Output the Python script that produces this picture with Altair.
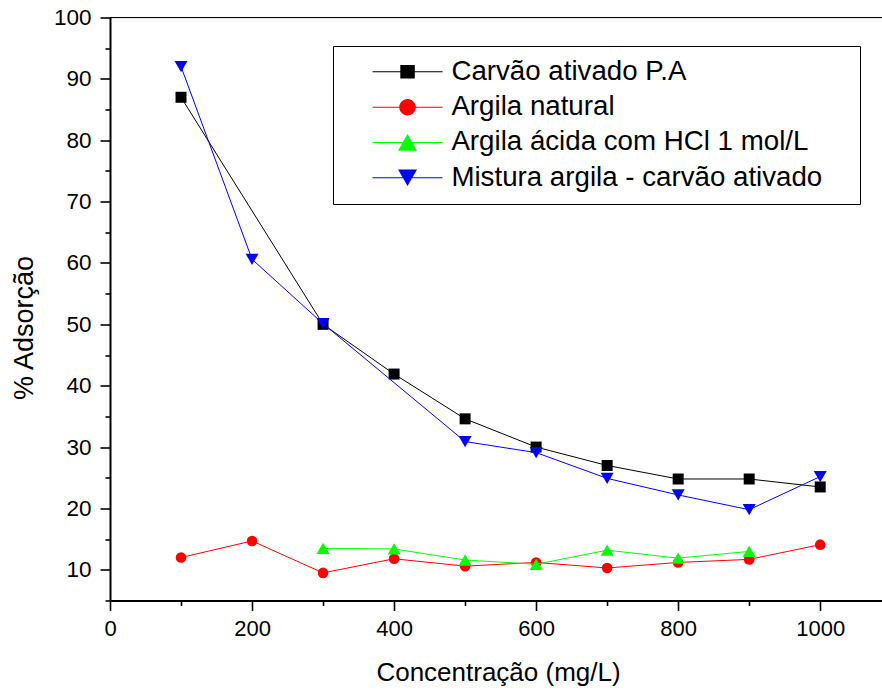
import altair as alt
import pandas as pd

# ---- data ----
series_names = [
    "Carvão ativado P.A",
    "Argila natural",
    "Argila ácida com HCl 1 mol/L",
    "Mistura argila - carvão ativado",
]
series_colors = ["#000000", "#FF0000", "#00FF00", "#0000FF"]
point_shapes = ["square", "circle", "triangle-up", "triangle-down"]
point_sizes = [121, 113, 169, 169]

carvao_x = [100, 300, 400, 500, 600, 700, 800, 900, 1000]
carvao_y = [87.0, 50.0, 41.9, 34.6, 30.0, 27.0, 24.8, 24.8, 23.5]

argila_x = [100, 200, 300, 400, 500, 600, 700, 800, 900, 1000]
argila_y = [12.0, 14.7, 9.5, 11.8, 10.6, 11.2, 10.3, 11.2, 11.7, 14.1]

acida_x = [300, 400, 500, 600, 700, 800, 900]
acida_y = [13.5, 13.4, 11.6, 10.9, 13.2, 11.9, 13.0]

mistura_x = [100, 200, 300, 500, 600, 700, 800, 900, 1000]
mistura_y = [92.0, 60.6, 50.1, 30.9, 29.1, 24.9, 22.2, 19.8, 25.2]

x_ticks = [0, 100, 200, 300, 400, 500, 600, 700, 800, 900, 1000]
y_ticks = [5, 10, 15, 20, 25, 30, 35, 40, 45, 50, 55, 60, 65, 70, 75, 80, 85, 90, 95, 100]

# legend symbols: line segment + marker (custom paths, unit = sqrt(size)/2 px);
# the trailing empty sub-path only widens the legend frame
legend_paths = [
    "M-7,-0.1H7V0.1H-7Z M-1.45,-1.35H1.45V1.35H-1.45Z M88,0Z",
    "M-7,-0.1H7V0.1H-7Z M-1.65,0A1.65,1.65,0,1,1,1.65,0A1.65,1.65,0,1,1,-1.65,0Z M88,0Z",
    "M-7,-0.1H7V0.1H-7Z M0,-1.67L1.9,1.67L-1.9,1.67Z M88,0Z",
    "M-7,-0.1H7V0.1H-7Z M0,1.67L-1.9,-1.67L1.9,-1.67Z M88,0Z",
]

rows = []
for name, xs_, ys_ in zip(series_names,
                          [carvao_x, argila_x, acida_x, mistura_x],
                          [carvao_y, argila_y, acida_y, mistura_y]):
    for a, b in zip(xs_, ys_):
        rows.append({"conc": a, "ads": b, "series": name})
df = pd.DataFrame(rows)

FONT = "Liberation Sans"

x_scale = alt.Scale(domain=[0, 1087], nice=False, zero=False)
y_scale = alt.Scale(domain=[5, 100], nice=False, zero=False)

x_axis = alt.Axis(
    values=x_ticks,
    labelExpr="datum.value % 200 === 0 ? datum.label : ''",
    format="d",
    grid=False,
    domainColor="black", domainWidth=2,
    tickColor="black", tickWidth=1.6, tickSize=10,
    tickDash={"condition": {"test": "datum.value % 200 !== 0", "value": [5, 30]}, "value": [30, 0]},
    labelFont=FONT, labelFontSize=22, labelColor="black", labelPadding=8,
    labelFlush=False,
    title="Concentração (mg/L)",
    titleFont=FONT, titleFontSize=26, titleFontWeight="normal", titleColor="black",
    titleX=388, titleY=80, titleAlign="center", titleBaseline="alphabetic",
)
y_axis = alt.Axis(
    values=y_ticks,
    labelExpr="datum.value % 10 === 0 ? datum.label : ''",
    format="d",
    grid=False,
    domainColor="black", domainWidth=2,
    tickColor="black", tickWidth=1.6, tickSize=10,
    tickDash={"condition": {"test": "datum.value % 10 !== 0", "value": [5, 30]}, "value": [30, 0]},
    labelFont=FONT, labelFontSize=22.5, labelColor="black", labelPadding=9,
    labelFlush=False,
    title="% Adsorção",
    titleFont=FONT, titleFontSize=27, titleFontWeight="normal", titleColor="black",
    titleX=-78, titleY=310, titleAlign="center", titleBaseline="alphabetic", titleAngle=270,
)

X = alt.X("conc:Q", scale=x_scale, axis=x_axis)
Y = alt.Y("ads:Q", scale=y_scale, axis=y_axis)

base = alt.Chart(df)

layers = []
for name, col, shp, sz in zip(series_names, series_colors, point_shapes, point_sizes):
    sub = base.transform_filter(alt.datum.series == name)
    layers.append(sub.mark_line(color=col, strokeWidth=1).encode(x=X, y=Y))
    layers.append(sub.mark_point(shape=shp, filled=True, color=col, size=sz, opacity=1).encode(x=X, y=Y))

leg = alt.Legend(
    title=None, orient="none", direction="vertical",
    legendX=223, legendY=28.5, padding=12,
    strokeColor="black", fillColor="white",
    labelFont=FONT, labelFontSize=27.7, labelColor="black", labelLimit=800,
    symbolSize=100, symbolStrokeWidth=0, symbolOffset=48.7, labelOffset=30,
    rowPadding=6.3,
)
legend_layer = base.transform_filter("false").mark_point(filled=True, opacity=1).encode(
    x=X, y=Y,
    color=alt.Color("series:N", scale=alt.Scale(domain=series_names, range=series_colors), legend=leg),
    shape=alt.Shape("series:N", scale=alt.Scale(domain=series_names, range=legend_paths), legend=leg),
)

top_line = alt.Chart(pd.DataFrame({"k": [0]})).mark_rule(color="black", strokeWidth=1).encode(
    x=alt.value(0), x2=alt.value("width"), y=alt.value(0)
)

chart = alt.layer(top_line, *layers, legend_layer).properties(
    width=772, height=583,
    autosize=alt.AutoSizeParams(type="none"),
    padding={"left": 110, "top": 17.5, "right": 0, "bottom": 89.5},
).configure_view(strokeWidth=0).configure(font=FONT)

chart.save("out.html", embed_options={"renderer": "svg", "actions": False})
